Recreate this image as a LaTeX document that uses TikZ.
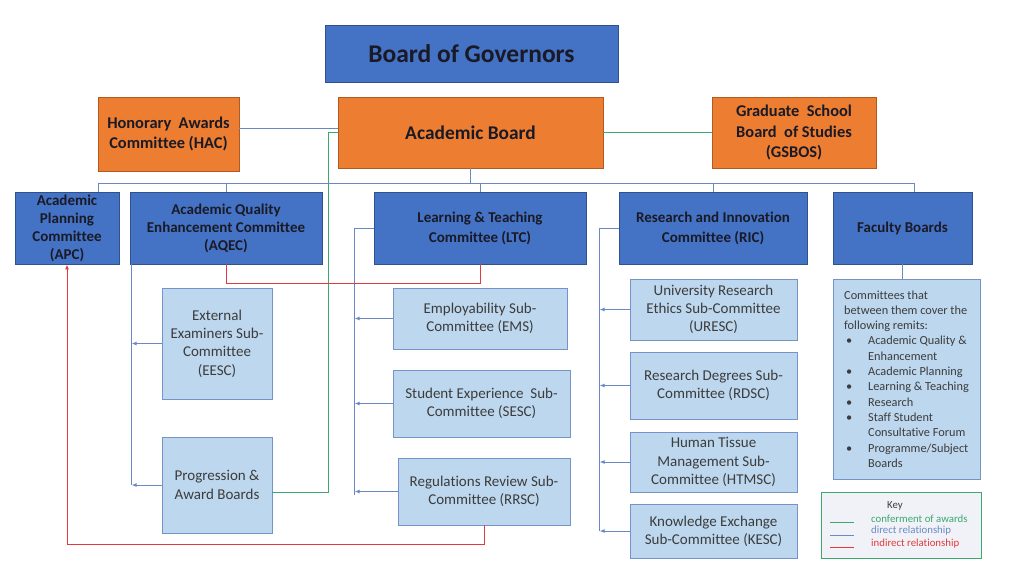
\documentclass[tikz,border=0pt]{standalone}
\usepackage{fontspec}
\setmainfont{Carlito}[Ligatures=NoCommon]
\usetikzlibrary{positioning,arrows.meta}
\definecolor{govblue}{HTML}{4472C4}
\definecolor{bordark}{HTML}{2F528F}
\definecolor{orangefill}{HTML}{ED7D31}
\definecolor{orborder}{HTML}{AE5A21}
\definecolor{paleblue}{HTML}{BDD7EE}
\definecolor{borlight}{HTML}{7393C9}
\definecolor{ink}{HTML}{1A1A26}
\definecolor{grayink}{HTML}{3C3C3C}
\definecolor{linkblue}{HTML}{6A89C4}
\definecolor{awardgreen}{HTML}{3BA86E}
\definecolor{indred}{HTML}{E03A3E}
\definecolor{keybg}{HTML}{F1F2F7}
\newcommand{\remitem}{\hspace*{2pt}\makebox[22pt][l]{\textbullet}}
\newcommand{\remgap}{\hspace*{24pt}}
\begin{document}
\begin{tikzpicture}[x=1pt, y=-1pt,
    sz/.style 2 args = {minimum width=#1pt, minimum height=#2pt, inner sep=0pt},
    board/.style = {draw=orborder, fill=orangefill, text=ink, align=center, line width=0.8pt, font=\bfseries\fontsize{16.4}{20.5}\selectfont},
    main/.style = {draw=bordark, fill=govblue, text=ink, align=center, line width=0.8pt, font=\bfseries\fontsize{15}{20}\selectfont},
    sub/.style = {draw=borlight, fill=paleblue, text=grayink, align=center, line width=0.9pt, font=\fontsize{15}{18.3}\selectfont},
    keytext/.style = {inner sep=0pt, text=grayink, font=\fontsize{10.8}{12}\selectfont},
    link/.style = {draw=linkblue, line width=1pt},
    tolink/.style = {link, -{Latex[length=5pt,width=4pt]}},
    award/.style = {draw=awardgreen, line width=1pt},
    indirect/.style = {draw=indred, line width=1pt}]
    \useasboundingbox (0,0) rectangle (1024,576);
    \node[main, sz={293}{57}, font=\bfseries\fontsize{25.5}{28}\selectfont] (bog) at (471.5,53.5) {Board of Governors};
    \node[board, sz={141}{74}] (hac) at (168.5,134) {Honorary~ Awards\\Committee (HAC)};
    \node[board, sz={265}{71}, font=\bfseries\fontsize{19.4}{22}\selectfont] (ab) at (470.5,132.5) {Academic Board};
    \node[board, sz={164}{71}] (gsbos) at (794,132.5) {Graduate~ School\\Board~ of Studies\\(GSBOS)};
    \node[main, sz={104}{72}, font=\bfseries\fontsize{15}{18}\selectfont] (apc) at (67,228) {Academic\\Planning\\Committee\\(APC)};
    \node[main, sz={192}{72}, font=\bfseries\fontsize{15}{18}\selectfont] (aqec) at (226,228) {Academic Quality\\Enhancement Committee\\(AQEC)};
    \node[main, sz={212}{72}] (ltc) at (480,228) {Learning \& Teaching\\Committee (LTC)};
    \node[main, sz={188}{72}] (ric) at (713,228) {Research and Innovation\\Committee (RIC)};
    \node[main, sz={139}{72}] (fb) at (902.5,228) {Faculty Boards};
    \node[sub, sz={110}{111}] (eesc) at (217,343.5) {External\\Examiners Sub-\\Committee\\(EESC)};
    \node[sub, sz={110}{96}] (pab) at (217,485) {Progression \&\\Award Boards};
    \node[sub, sz={174}{61}] (ems) at (480,318.5) {Employability Sub-\\Committee (EMS)};
    \node[sub, sz={177}{67}] (sesc) at (481.5,403.5) {Student Experience~ Sub-\\Committee (SESC)};
    \node[sub, sz={172}{67}] (rrsc) at (484,491.5) {Regulations Review Sub-\\Committee (RRSC)};
    \node[sub, sz={167}{61}] (uresc) at (713.5,309.5) {University Research\\Ethics Sub-Committee\\(URESC)};
    \node[sub, sz={167}{67}] (rdsc) at (713.5,385.5) {Research Degrees Sub-\\Committee (RDSC)};
    \node[sub, sz={167}{60}] (htmsc) at (713.5,462) {Human Tissue\\Management Sub-\\Committee (HTMSC)};
    \node[sub, sz={167}{54}] (kesc) at (713.5,531) {Knowledge Exchange\\Sub-Committee (KESC)};
    \node[sub, sz={147}{200}, align=left, font=\fontsize{12.3}{15.3}\selectfont] (remits) at (906.5,379) {Committees that\\between them cover the\\following remits:\\\remitem Academic Quality \&\\\remgap Enhancement\\\remitem Academic Planning\\\remitem Learning \& Teaching\\\remitem Research\\\remitem Staff Student\\\remgap Consultative Forum\\\remitem Programme/Subject\\\remgap Boards};
    \node[sz={160}{66}, draw=awardgreen, fill=keybg, line width=0.9pt] (key) at (901,525.5) {};
    \node[keytext] (keyt) at (895,506) {Key};
    \node[keytext, text=awardgreen, anchor=west] (k1) at (871,518.5) {conferment of awards};
    \node[keytext, text=linkblue, anchor=west] (k2) at (871,531) {direct relationship};
    \node[keytext, text=indred, anchor=west] (k3) at (871,543.5) {indirect relationship};
    \draw[award] ([xshift=-41pt,yshift=-4pt]k1.west) -- ++(24,0);
    \draw[link] ([xshift=-41pt,yshift=-4pt]k2.west) -- ++(24,0);
    \draw[indirect] ([xshift=-41pt,yshift=-4pt]k3.west) -- ++(24,0);
    \draw[link] ([yshift=6pt]hac.east) -- ([yshift=6pt]hac.east -| ab.west);
    \draw[award] (ab.east) -- (gsbos.west);
    \draw[award] (ab.west) -- ++(-9,0) |- ([yshift=-7pt]pab.east);
    \coordinate (busl) at (98,183);
    \coordinate (busr) at (914,183);
    \draw[link] (busl) -- (busr);
    \draw[link] (ab.south) -- (ab.south |- busl);
    \draw[link] (busl) -- (busl |- apc.north);
    \draw[link] (busr) -- (busr |- fb.north);
    \foreach \n in {aqec, ltc, ric} \draw[link] (\n.north |- busl) -- (\n.north);
    \draw[link] (fb.south) -- (fb.south |- remits.north);
    \draw[link] ([xshift=2pt]aqec.south west) coordinate (aqv) -- (aqv |- pab.west);
    \foreach \n in {eesc, pab} \draw[tolink] (\n.west) -- (\n.west -| aqv);
    \draw[link] (ltc.west) -- ++(-19,0) coordinate (ltv) -- ([yshift=-3pt]ltv |- rrsc.west);
    \foreach \n in {ems, sesc, rrsc} \draw[tolink] (\n.west) -- (\n.west -| ltv);
    \draw[link] (ric.west) -- ++(-19,0) coordinate (riv) -- (riv |- kesc.west);
    \foreach \n in {uresc, rdsc, htmsc, kesc} \draw[tolink] (\n.west) -- (\n.west -| riv);
    \draw[indirect] (aqec.south) -- ++(0,19) -| (ltc.south);
    \draw[indirect, -{Latex[length=5pt,width=4pt]}] (rrsc.south) -- ++(0,19) -| (apc.south);
\end{tikzpicture}
\end{document}
